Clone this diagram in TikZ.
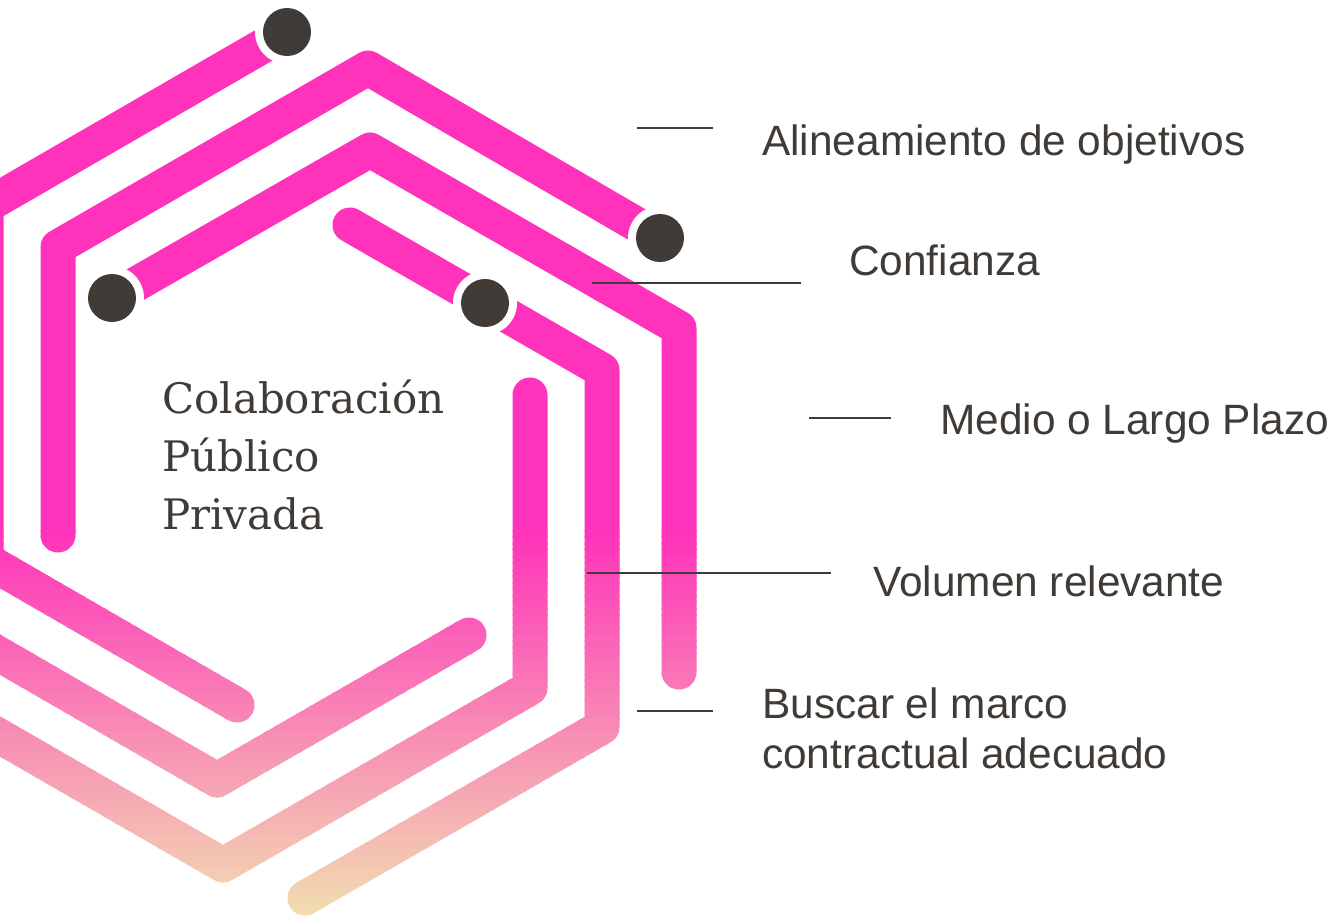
\documentclass[tikz,border=0pt]{standalone}
\usepackage{fontspec}
\setmainfont{Liberation Sans}
\newfontfamily\cppserif{DejaVu Serif}
\definecolor{bandpink}{RGB}{255,51,187}
\definecolor{fadeend}{RGB}{241,224,176}
\definecolor{ink}{RGB}{64,59,54}
\tikzset{
  band/.style={line width=35pt, line cap=round, line join=round},
  ring/.style={fill=white, draw=none},
  knob/.style={fill=ink, draw=none},
  leader/.style={draw=ink, line width=1.8pt},
  lbl/.style={inner sep=0pt, anchor=base west, text=ink, font=\fontsize{42.4}{50}\selectfont},
  ttl/.style={inner sep=0pt, anchor=base west, text=ink, font=\cppserif\fontsize{42}{58}\selectfont}
}
\newcommand\hexbands[1]{%
  \draw[band,draw=#1] (287,32) -- (-14,206) -- (-14,560) -- (237,705);
  \draw[band,draw=#1] (58,535) -- (58,247) -- (368,68) -- (660,238);
  \draw[band,draw=#1] (112,298) -- (370,150) -- (679,328) -- (679,672);
  \draw[band,draw=#1] (350,225) -- (602,370) -- (602,727) -- (305,898);
  \draw[band,draw=#1] (-150,650) -- (223,865) -- (530,688) -- (530,395);
  \draw[band,draw=#1] (-150,568) -- (217,780) -- (469,635);
}
\begin{document}
\begin{tikzpicture}[x=1pt,y=-1pt]
\useasboundingbox (0,0) rectangle (1337,918);
\begin{scope}
  \clip (0,0) rectangle (1337,918);
  \begin{scope}
    \clip (-200,-100) rectangle (1400,531);
    \hexbands{bandpink}
  \end{scope}
  \foreach \i in {0,...,59}{
    \pgfmathsetmacro\ya{530+\i*6.5}
    \pgfmathsetmacro\yb{\ya+7.5}
    \pgfmathtruncatemacro\t{100*(\i+0.5)/60}
    \colorlet{bandc}{fadeend!\t!bandpink}
    \begin{scope}
      \clip (-200,\ya) rectangle (1400,\yb);
      \hexbands{bandc}
    \end{scope}
  }
\end{scope}
% dots with white rings
\foreach \n/\p in {d1/{(287,32)}, d2/{(660,238)}, d3/{(112,298)}, d4/{(485,303)}}{
  \fill[ring] \p circle (32);
  \node[knob, circle, minimum size=48pt, inner sep=0pt] (\n) at \p {};
}
% centre title
\node[ttl] (t1) at (162,413) {Colaboración};
\node[ttl] (t2) at (162,471) {Público};
\node[ttl] (t3) at (162,529) {Privada};
% labels
\node[lbl] (l1) at (762,155) {Alineamiento de objetivos};
\node[lbl] (l2) at (849,275) {Confianza};
\node[lbl] (l3) at (940,434) {Medio o Largo Plazo};
\node[lbl] (l4) at (873,596) {Volumen relevante};
\node[lbl] (l5a) at (762,718) {Buscar el marco};
\node[lbl] (l5b) at (762,768) {contractual adecuado};
% leader lines
\coordinate (a1) at (637,128); \coordinate (b1) at (713,128);
\coordinate (a2) at (592,283); \coordinate (b2) at (801,283);
\coordinate (a3) at (809,418); \coordinate (b3) at (891,418);
\coordinate (a4) at (587,573); \coordinate (b4) at (831,573);
\coordinate (a5) at (637,711); \coordinate (b5) at (713,711);
\draw[leader] (a1) -- (b1);
\draw[leader] (a2) -- (b2);
\draw[leader] (a3) -- (b3);
\draw[leader] (a4) -- (b4);
\draw[leader] (a5) -- (b5);
\end{tikzpicture}
\end{document}
